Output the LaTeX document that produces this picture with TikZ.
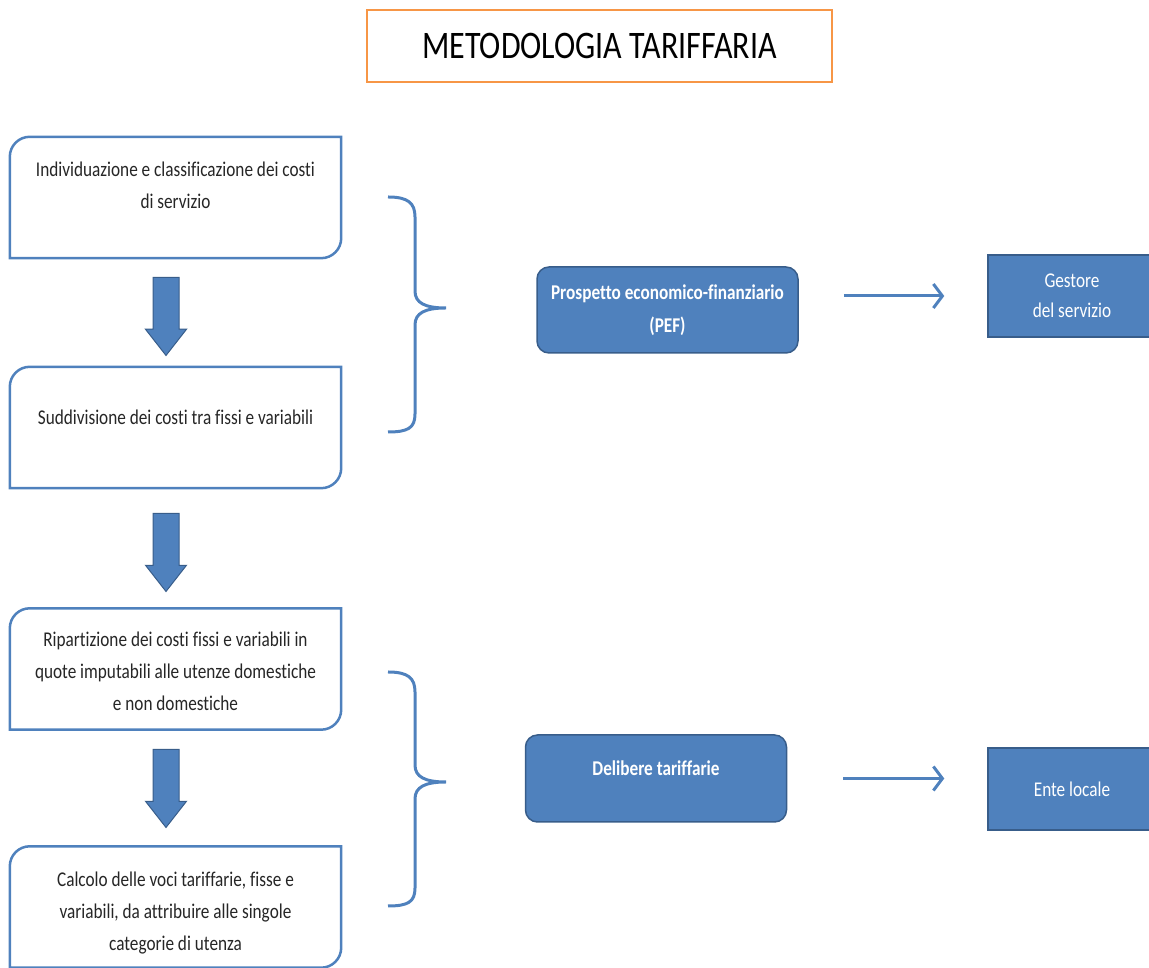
\documentclass[tikz,border=0pt]{standalone}
\usepackage{fontspec}
\setmainfont{Carlito}[FakeStretch=0.82,Ligatures=NoCommon]
\usetikzlibrary{positioning,arrows.meta,shapes.arrows}
\definecolor{ofblue}{HTML}{4F81BD}
\definecolor{ofdark}{HTML}{385D8A}
\definecolor{oforange}{HTML}{F79646}

\tikzset{
  stepbox/.style={minimum width=331pt,minimum height=121pt,inner sep=0pt},
  steptext/.style={anchor=north,align=center,inner sep=0pt,text=black!85,
    font=\fontsize{21}{32}\selectfont},
  stepline/.style={draw=ofblue,line width=2.5pt},
  downarr/.style={single arrow,rotate=-90,anchor=tail,fill=ofblue,draw=ofdark,line width=1pt,
    minimum height=78pt,minimum width=40pt,inner xsep=0pt,inner ysep=12.5pt,
    single arrow head extend=7.5pt,single arrow tip angle=76,single arrow head indent=0pt},
  docbox/.style={rounded corners=12pt,fill=ofblue,draw=ofdark,line width=1.5pt,
    minimum width=261pt,minimum height=86pt,text=white,align=center,
    font=\bfseries\fontsize{21}{33}\selectfont},
  actor/.style={fill=ofblue,draw=ofdark,line width=1.5pt,minimum width=168pt,
    minimum height=82pt,text=white,align=center,font=\fontsize{21}{30}\selectfont},
  bracket/.style={draw=ofblue,line width=3pt},
  flow/.style={draw=ofblue,line width=3pt,-{Straight Barb[length=9pt,width=24pt]}}
}

\begin{document}
\begin{tikzpicture}[x=1pt,y=1pt]
  \useasboundingbox (0,0) rectangle (1149,968);
  % title
  \node[draw=oforange,line width=2.5pt,minimum width=465pt,minimum height=72pt,
    font=\fontsize{39}{39}\selectfont] (title) at (599.5,922) {METODOLOGIA TARIFFARIA};
  % steps on the left
  \node[stepbox] (s1) at (175.5,770.5) {};
  \node[stepbox] (s2) at (175.5,540.5) {};
  \node[stepbox] (s3) at (175.5,299) {};
  \node[stepbox] (s4) at (175.5,61) {};
  \foreach \n in {s1,s2,s3,s4} {
    \draw[stepline] (\n.south west) -- ([yshift=-20pt]\n.north west)
      arc[start angle=180,end angle=90,radius=20pt] -- (\n.north east)
      -- ([yshift=20pt]\n.south east) arc[start angle=0,end angle=-90,radius=20pt]
      -- cycle;
  }
  \node[steptext,below=25pt of s1.north] (t1) {Individuazione e classificazione dei costi\\di servizio};
  \node[steptext,below=43pt of s2.north] (t2) {Suddivisione dei costi tra fissi e variabili};
  \node[steptext,below=23pt of s3.north] (t3) {Ripartizione dei costi fissi e variabili in\\quote imputabili alle utenze domestiche\\e non domestiche};
  \node[steptext,below=25pt of s4.north] (t4) {Calcolo delle voci tariffarie, fisse e\\variabili, da attribuire alle singole\\categorie di utenza};
  % block arrows
  \node[downarr] (a1) at (166,691) {};
  \node[downarr] (a2) at (166,455) {};
  \node[downarr] (a3) at (166,219) {};
  % braces
  \foreach \t/\m/\b in {771/660/536,296/186/62} {
    \draw[bracket] (388,\t) .. controls (408,\t) and (415,\t-6) .. (415,\t-20)
      -- (415,\m+17) .. controls (415,\m+5) and (425,\m) .. (446,\m)
      .. controls (425,\m) and (415,\m-5) .. (415,\m-17)
      -- (415,\b+18) .. controls (415,\b+4) and (408,\b) .. (388,\b);
  }
  % documents and actors
  \node[docbox] (pef) at (667.5,658) {Prospetto economico-finanziario\\(PEF)};
  \node[docbox,text depth=21pt,minimum height=87pt] (del) at (656,189.5) {Delibere tariffarie};
  \node[actor] (ges) at (1072,672) {Gestore\\del servizio};
  \node[actor] (ente) at (1072,179) {Ente locale};
  \draw[flow,shorten <=45pt,shorten >=43pt] (pef.east |- ges.west) -- (ges.west);
  \draw[flow,shorten <=56pt,shorten >=43pt] (del.east) -- (del.east -| ente.west);
\end{tikzpicture}
\end{document}
